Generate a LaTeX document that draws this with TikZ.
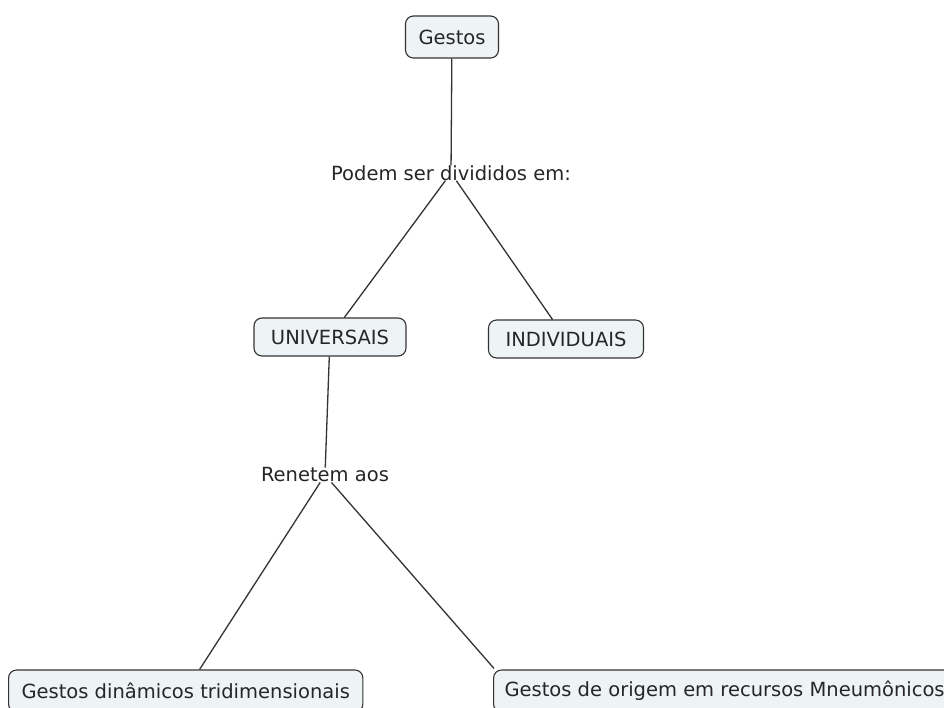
\documentclass[tikz,border=0pt]{standalone}
\usepackage{fontspec}
\setmainfont{DejaVu Sans}
\begin{document}
\begin{tikzpicture}[x=1pt,y=-1pt,
  concept/.style={draw=black!80, fill=boxfill, rounded corners=8pt, line width=1.1pt,
    inner xsep=13pt, minimum height=38pt, text=black!85, font=\fontsize{19.5}{21}\selectfont},
  linklabel/.style={inner sep=0pt, text=black!85, font=\fontsize{19.5}{21}\selectfont},
  conn/.style={draw=black!80, line width=1.3pt}]
\definecolor{boxfill}{HTML}{EEF3F6}
\useasboundingbox (0,0) rectangle (944,707);
\clip (0,0) rectangle (944,707);
\fill[white] (0,0) rectangle (944,707);
\node[concept, minimum height=42pt] (gestos) at (452,37) {Gestos};
\node[linklabel] (podem) at (451,173) {Podem ser divididos em:};
\node[concept, inner xsep=17pt] (univ) at (330,337) {UNIVERSAIS};
\node[concept, inner xsep=17pt] (indiv) at (566,339) {INDIVIDUAIS};
\node[linklabel] (renetem) at (325,475) {Renetem aos};
\node[concept, anchor=west, minimum height=42pt] (dina) at (8,691) {Gestos dinâmicos tridimensionais};
\node[concept, anchor=west, minimum height=42pt, inner xsep=11pt] (orig) at (493,691) {Gestos de origem em recursos Mneumônicos};
\draw[conn] (gestos) -- (podem);
\draw[conn] (podem) -- (univ);
\draw[conn] (podem) -- (indiv);
\draw[conn] (univ) -- (renetem);
\draw[conn] (renetem) -- (dina);
\draw[conn] (renetem) -- ([xshift=1pt,yshift=1pt]orig.north west);
\end{tikzpicture}
\end{document}
